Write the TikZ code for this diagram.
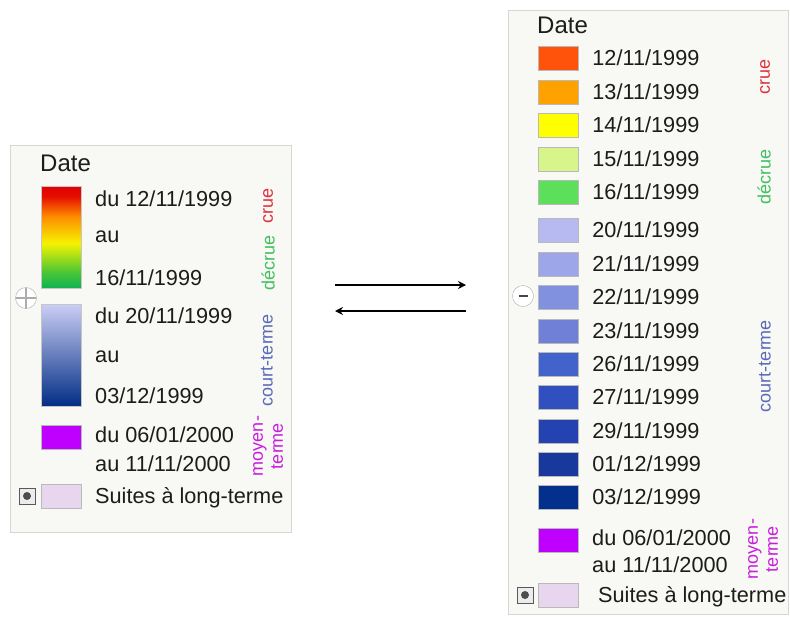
\documentclass[tikz,border=0pt]{standalone}
\usepackage{fontspec}
\setmainfont{Liberation Sans}
\usetikzlibrary{arrows.meta, positioning}

\definecolor{panelbg}{HTML}{F8F8F5}
\definecolor{panelline}{HTML}{D6D6D2}
\definecolor{inktxt}{HTML}{1C1C1C}
% swatch colours
\definecolor{swA}{HTML}{FF520A}
\definecolor{swB}{HTML}{FFA200}
\definecolor{swC}{HTML}{FFFF00}
\definecolor{swD}{HTML}{D8F58C}
\definecolor{swE}{HTML}{5CE05C}
\definecolor{swF}{HTML}{B6BAF0}
\definecolor{swG}{HTML}{9EA6EA}
\definecolor{swH}{HTML}{8290E0}
\definecolor{swI}{HTML}{7080D6}
\definecolor{swJ}{HTML}{4262CC}
\definecolor{swK}{HTML}{3050C0}
\definecolor{swL}{HTML}{2442B0}
\definecolor{swM}{HTML}{18389E}
\definecolor{swN}{HTML}{02308C}
\definecolor{swmoyen}{HTML}{C000FF}
\definecolor{swlong}{HTML}{E8D6EE}
% phase label colours
\definecolor{crue}{HTML}{E0303C}
\definecolor{decrue}{HTML}{40C060}
\definecolor{court}{HTML}{5A6AB8}
\definecolor{moyen}{HTML}{C81EDC}

\pgfdeclareverticalshading{crueshade}{100bp}{rgb(0bp)=(0.05,0.70,0.33); rgb(25bp)=(0.05,0.70,0.33); rgb(33bp)=(0.30,0.78,0.20); rgb(47bp)=(0.96,0.95,0.0); rgb(60bp)=(1,0.55,0); rgb(70bp)=(0.90,0.05,0); rgb(75bp)=(0.88,0,0); rgb(100bp)=(0.88,0,0)}

\tikzset{
    panel/.style={rectangle, draw=panelline, fill=panelbg, inner sep=0pt},
    title/.style={font=\fontsize{24}{28}\selectfont, text=inktxt, anchor=base west, inner sep=0pt},
    datetxt/.style={font=\fontsize{21.7}{26}\selectfont, text=inktxt, anchor=base west, inner sep=0pt},
    swatch/.style={rectangle, draw=gray!55, minimum width=40pt, minimum height=24pt, inner sep=0pt},
    bar/.style={rectangle, draw=gray!45, minimum width=40pt, minimum height=102pt, inner sep=0pt},
    phase/.style={rotate=90, font=\fontsize{18}{20}\selectfont, align=center, inner sep=0pt},
    checkbox/.style={rectangle, draw=gray!70!black, fill=gray!15, minimum size=16pt, inner sep=0pt,
        path picture={\fill[gray!60!black] (path picture bounding box.center) circle (4pt);}},
    togglebtn/.style={circle, draw=gray!65, fill=white, minimum size=21pt, inner sep=0pt},
    plussign/.style={path picture={\draw[gray!65, line width=1.4pt] (path picture bounding box.north) -- (path picture bounding box.south) (path picture bounding box.west) -- (path picture bounding box.east);}},
    minussign/.style={path picture={\draw[gray!55!black, line width=2.5pt] ([xshift=6pt]path picture bounding box.west) -- ([xshift=-6pt]path picture bounding box.east);}},
    swaparrow/.style={line width=2pt, -{Stealth[length=8pt, width=8pt]}}
}

\begin{document}
\begin{tikzpicture}[x=1pt, y=-1pt]
    \useasboundingbox (0,0) rectangle (790,616);

    % Collapsed legend
    \node[panel, minimum width=281pt, minimum height=387pt] (leftlegend) at (150.5,338.5) {};
    \node[title] (ltitle) at (40,171) {Date};
    \node[bar, shading=crueshade] (lbarcrue) at (61,237) {};
    \node[datetxt] (ldu1) at (95,206) {du 12/11/1999};
    \node[datetxt] (lau1) at (95,242) {au};
    \node[datetxt] (lend1) at (95,285) {16/11/1999};
    \node[togglebtn, plussign] (lexpand) at (26,298) {};
    \node[bar, top color=swF!70!white, middle color=swI!90!white, bottom color=swN!95!black] (lbarcourt) at (61,355) {};
    \node[datetxt] (ldu2) at (95,323) {du 20/11/1999};
    \node[datetxt] (lau2) at (95,362) {au};
    \node[datetxt] (lend2) at (95,403) {03/12/1999};
    \node[swatch, fill=swmoyen] (lmoyen) at (61,437.5) {};
    \node[datetxt] (ldu3) at (95,442) {du 06/01/2000};
    \node[datetxt] (lau3) at (95,471) {au 11/11/2000};
    \node[checkbox] (lcheck) at (27,496) {};
    \node[swatch, fill=swlong] (llong) at (61,496) {};
    \node[datetxt] (lsuites) at (95,503) {Suites à long-terme};

    \node[phase, text=crue] (lcrue) at (268,206) {crue};
    \node[phase, text=decrue] (ldecrue) at (268,263) {décrue};
    \node[phase, text=court] (lcourt) at (267,360) {court-terme};
    \node[phase, text=moyen] (lmoyenlbl) at (268,446) {moyen-\\terme};

    % Expanded legend
    \node[panel, minimum width=280pt, minimum height=604pt] (rightlegend) at (648,312) {};
    \node[title] (rtitle) at (537,33) {Date};
    \node[swatch, fill=swA] (s1211) at (558,58) {};
    \node[datetxt, right=14pt of s1211] (t1211) {12/11/1999};
    \node[swatch, fill=swB] (s1311) at (558,92) {};
    \node[datetxt, right=14pt of s1311] (t1311) {13/11/1999};
    \node[swatch, fill=swC] (s1411) at (558,125) {};
    \node[datetxt, right=14pt of s1411] (t1411) {14/11/1999};
    \node[swatch, fill=swD] (s1511) at (558,159) {};
    \node[datetxt, right=14pt of s1511] (t1511) {15/11/1999};
    \node[swatch, fill=swE] (s1611) at (558,192) {};
    \node[datetxt, right=14pt of s1611] (t1611) {16/11/1999};
    \node[swatch, fill=swF] (s2011) at (558,230) {};
    \node[datetxt, right=14pt of s2011] (t2011) {20/11/1999};
    \node[swatch, fill=swG] (s2111) at (558,264) {};
    \node[datetxt, right=14pt of s2111] (t2111) {21/11/1999};
    \node[swatch, fill=swH] (s2211) at (558,297) {};
    \node[datetxt, right=14pt of s2211] (t2211) {22/11/1999};
    \node[swatch, fill=swI] (s2311) at (558,331) {};
    \node[datetxt, right=14pt of s2311] (t2311) {23/11/1999};
    \node[swatch, fill=swJ] (s2611) at (558,364) {};
    \node[datetxt, right=14pt of s2611] (t2611) {26/11/1999};
    \node[swatch, fill=swK] (s2711) at (558,397) {};
    \node[datetxt, right=14pt of s2711] (t2711) {27/11/1999};
    \node[swatch, fill=swL] (s2911) at (558,431) {};
    \node[datetxt, right=14pt of s2911] (t2911) {29/11/1999};
    \node[swatch, fill=swM] (s0112) at (558,464) {};
    \node[datetxt, right=14pt of s0112] (t0112) {01/12/1999};
    \node[swatch, fill=swN] (s0312) at (558,497) {};
    \node[datetxt, right=14pt of s0312] (t0312) {03/12/1999};
    \node[togglebtn, minussign] (rcollapse) at (523,296) {};
    \node[swatch, fill=swmoyen] (rmoyen) at (558,540) {};
    \node[datetxt] (rdu) at (592,545) {du 06/01/2000};
    \node[datetxt] (rau) at (592,572) {au 11/11/2000};
    \node[checkbox] (rcheck) at (525,595) {};
    \node[swatch, fill=swlong] (rlong) at (558,595) {};
    \node[datetxt] (rsuites) at (598,602) {Suites à long-terme};

    \node[phase, text=crue] (rcrue) at (765,77) {crue};
    \node[phase, text=decrue] (rdecrue) at (764,177) {décrue};
    \node[phase, text=court] (rcourt) at (765,366) {court-terme};
    \node[phase, text=moyen] (rmoyenlbl) at (763,549) {moyen-\\terme};

    % Switch arrows
    \coordinate (fwdstart) at (335,285);
    \coordinate (fwdend) at (466,285);
    \coordinate (backstart) at (466,311);
    \coordinate (backend) at (335,311);
    \draw[swaparrow] (fwdstart) -- (fwdend);
    \draw[swaparrow] (backstart) -- (backend);

\end{tikzpicture}
\end{document}
